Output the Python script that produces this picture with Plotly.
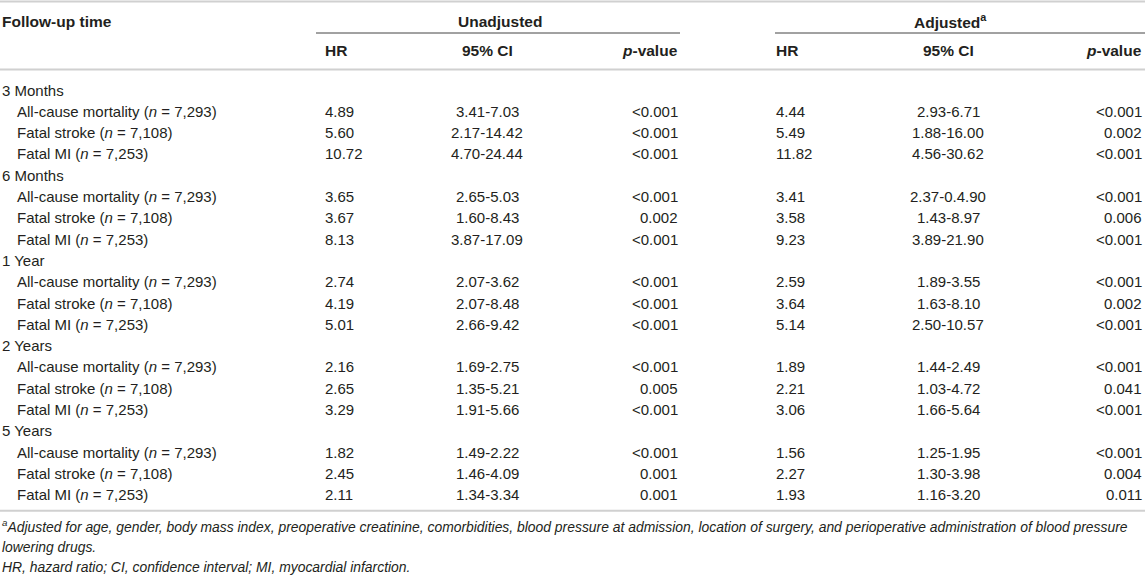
import plotly.graph_objects as go

# table content
periods = ["3 Months", "6 Months", "1 Year", "2 Years", "5 Years"]
outcomes = ["All-cause mortality", "Fatal stroke", "Fatal MI"]
n_values = ["7,293", "7,108", "7,253"]

unadj_hr = ["4.89", "5.60", "10.72", "3.65", "3.67", "8.13", "2.74", "4.19", "5.01",
            "2.16", "2.65", "3.29", "1.82", "2.45", "2.11"]
unadj_ci = ["3.41-7.03", "2.17-14.42", "4.70-24.44", "2.65-5.03", "1.60-8.43", "3.87-17.09",
            "2.07-3.62", "2.07-8.48", "2.66-9.42", "1.69-2.75", "1.35-5.21", "1.91-5.66",
            "1.49-2.22", "1.46-4.09", "1.34-3.34"]
unadj_p = ["<0.001", "<0.001", "<0.001", "<0.001", "0.002", "<0.001", "<0.001", "<0.001",
           "<0.001", "<0.001", "0.005", "<0.001", "<0.001", "0.001", "0.001"]
adj_hr = ["4.44", "5.49", "11.82", "3.41", "3.58", "9.23", "2.59", "3.64", "5.14",
          "1.89", "2.21", "3.06", "1.56", "2.27", "1.93"]
adj_ci = ["2.93-6.71", "1.88-16.00", "4.56-30.62", "2.37-0.4.90", "1.43-8.97", "3.89-21.90",
          "1.89-3.55", "1.63-8.10", "2.50-10.57", "1.44-2.49", "1.03-4.72", "1.66-5.64",
          "1.25-1.95", "1.30-3.98", "1.16-3.20"]
adj_p = ["<0.001", "0.002", "<0.001", "<0.001", "0.006", "<0.001", "<0.001", "0.002",
         "<0.001", "<0.001", "0.041", "<0.001", "<0.001", "0.004", "0.011"]

footnotes = [
    "<sup>a</sup>Adjusted for age, gender, body mass index, preoperative creatinine, comorbidities, "
    "blood pressure at admission, location of surgery, and perioperative administration of blood pressure",
    "lowering drugs.",
    "HR, hazard ratio; CI, confidence interval; MI, myocardial infarction.",
]

W, H = 1145, 582
FONT = "Liberation Sans, Arial, sans-serif"
TXT = "#231f20"
RULE = "#d0d0d0"
FS_HEAD, FS_BODY, FS_NOTE = 15.5, 15, 13.9

# column layout (pixels)
x_label, x_indent = 1, 16
x_uhr, x_uci, x_up = 324, 487, 679
x_ahr, x_aci, x_ap = 775, 948, 1143
y_top, y_head1, y_uline, y_head2, y_sep = 1.5, 21, 33, 50, 69.5
y_row0, row_h = 90, 21.3


def esc(s):
    return s.replace("<0", "&lt;0")


ann = []


def put(x, y, text, anchor, size, bold=False, italic=False):
    t = text
    if italic:
        t = "<i>" + t + "</i>"
    if bold:
        t = "<b>" + t + "</b>"
    ann.append(dict(x=x, y=y, xref="x", yref="y", text=t, showarrow=False,
                    xanchor=anchor, yanchor="middle", borderpad=0,
                    font=dict(family=FONT, size=size, color=TXT)))


# header
put(x_label, y_head1, "Follow-up time", "left", FS_HEAD, bold=True)
put((316 + 680) / 2 + 2, y_head1, "Unadjusted", "center", FS_HEAD, bold=True)
put(950, y_head1, "Adjusted<sup>a</sup>", "center", FS_HEAD, bold=True)
for xh, xc, xp in [(x_uhr, x_uci, x_up), (x_ahr, x_aci, x_ap)]:
    put(xh, y_head2, "HR", "left", FS_HEAD, bold=True)
    put(xc, y_head2, "95% CI", "center", FS_HEAD, bold=True)
    put(xp, y_head2, "<i>p</i>-value", "right", FS_HEAD, bold=True)

# body
row = 0
k = 0
for period in periods:
    y = y_row0 + row * row_h
    put(x_label, y, period, "left", FS_BODY)
    row += 1
    for outcome, n in zip(outcomes, n_values):
        y = y_row0 + row * row_h
        put(x_indent, y, f"{outcome} (<i>n</i> = {n})", "left", FS_BODY)
        put(x_uhr, y, unadj_hr[k], "left", FS_BODY)
        put(x_uci, y, unadj_ci[k], "center", FS_BODY)
        put(x_up, y, esc(unadj_p[k]), "right", FS_BODY)
        put(x_ahr, y, adj_hr[k], "left", FS_BODY)
        put(x_aci, y, adj_ci[k], "center", FS_BODY)
        put(x_ap, y, esc(adj_p[k]), "right", FS_BODY)
        row += 1
        k += 1

y_bottom = y_row0 + (row - 1) * row_h + 16
for i, note in enumerate(footnotes):
    put(x_label, y_bottom + 15.5 + i * 20.5, note, "left", FS_NOTE, italic=True)

shapes = [
    dict(type="line", x0=0, x1=W, y0=y_top, y1=y_top, line=dict(color=RULE, width=2)),
    dict(type="line", x0=0, x1=W, y0=y_sep, y1=y_sep, line=dict(color=RULE, width=2)),
    dict(type="line", x0=0, x1=W, y0=y_bottom, y1=y_bottom, line=dict(color=RULE, width=2)),
    dict(type="line", x0=316, x1=680, y0=y_uline, y1=y_uline, line=dict(color="#444", width=1)),
    dict(type="line", x0=775, x1=W, y0=y_uline, y1=y_uline, line=dict(color="#444", width=1)),
]

fig = go.Figure()
fig.add_trace(go.Scatter(x=[0, W], y=[0, H], mode="markers", marker=dict(opacity=0),
                         hoverinfo="skip", showlegend=False))
fig.update_layout(
    width=W, height=H,
    margin=dict(l=0, r=0, t=0, b=0),
    paper_bgcolor="white", plot_bgcolor="white",
    xaxis=dict(range=[0, W], visible=False, fixedrange=True),
    yaxis=dict(range=[H, 0], visible=False, fixedrange=True),
    annotations=ann, shapes=shapes,
    showlegend=False,
)
fig.write_html("out.html", config={"displayModeBar": False},
               post_script="document.body.style.margin='0';")
